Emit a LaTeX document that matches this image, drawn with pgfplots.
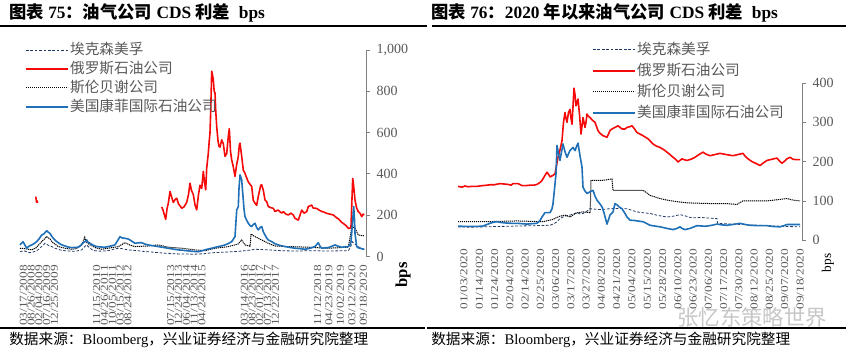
\documentclass[border=0pt]{standalone}
\usepackage{fontspec}
\setmainfont{Liberation Serif}
\newfontfamily\cjk{Noto Sans CJK SC}
\newfontfamily\tickfont{Liberation Serif}[FakeStretch=1.25]
\usepackage{pgfplots}
\pgfplotsset{compat=1.18}
\definecolor{cred}{RGB}{245,10,10}
\definecolor{cblue}{RGB}{31,112,183}
\definecolor{cnavy}{RGB}{31,56,100}
\definecolor{tgray}{RGB}{89,89,89}
\definecolor{agray}{RGB}{128,128,128}
\pgfplotsset{
  ccommon/.style={
    scale only axis, anchor=south west,
    axis y line*=right, axis x line*=bottom,
    x axis line style={draw=none},
    y axis line style={agray, line width=0.6pt},
    tick align=outside,
    ytick style={agray, line width=0.6pt},
    major tick length=3pt,
    minor tick length=3.75pt,
    xtick style={draw=none},
    minor x tick style={agray, line width=0.5pt},
    yticklabel style={font=\fontsize{10.5}{12}\selectfont, text=tgray, xshift=1.5pt},
    xticklabel style={rotate=90, anchor=east, font=\tickfont\fontsize{8}{9}\selectfont, text=tgray},
    /pgf/number format/assume math mode=true,
    /pgf/number format/1000 sep={,},
    legend cell align=left,
  },
  xom/.style={draw=cnavy, line width=0.6pt, dash pattern=on 2pt off 1.3pt},
  ros/.style={draw=cred, line width=1.2pt, line join=round},
  slb/.style={draw=black, line width=0.75pt, dash pattern=on 0.9pt off 0.6pt},
  cop/.style={draw=cblue, line width=1.2pt, line join=round},
}
\pgfplotsset{legend image code/.code={\draw[#1] (0pt,0pt) -- (31.5pt,0pt);}}
\begin{document}
\begin{tikzpicture}
\useasboundingbox (0,0) rectangle (640.5pt,-267pt);
\begin{scope}[x=0.75pt,y=-0.75pt]
\node[anchor=west,inner sep=0] at (9,13) {\fontsize{13}{15}\selectfont\bfseries{\cjk 图表} 75{\cjk ：油气公司} CDS {\cjk 利差}\ \ bps};
\node[anchor=west,inner sep=0] at (431,13) {\fontsize{13}{15}\selectfont\bfseries{\cjk 图表} 76{\cjk ：}2020 {\cjk 年以来油气公司} CDS {\cjk 利差}\ \ bps};
\draw[line width=1.1pt] (0,26) -- (427,26);
\draw[line width=1.1pt] (432,26) -- (846,26);
\draw[line width=0.8pt] (0,328) -- (425,328);
\draw[line width=0.8pt] (427,328) -- (846,328);
\node[anchor=west,inner sep=0] at (9,340) {\fontsize{11}{13}\selectfont{\cjk 数据来源：}Bloomberg{\cjk ，兴业证券经济与金融研究院整理}};
\node[anchor=west,inner sep=0] at (431,340) {\fontsize{11}{13}\selectfont{\cjk 数据来源：}Bloomberg{\cjk ，兴业证券经济与金融研究院整理}};
\node[rotate=90,inner sep=0] at (403,275) {\fontsize{12.5}{14}\selectfont\bfseries bps};
\node[rotate=90,inner sep=0] at (828,263) {\fontsize{10}{12}\selectfont bps};
\node[inner sep=0,text=black!22] at (752,317) {\cjk\fontsize{16}{18}\selectfont 张忆东策略世界};
\end{scope}

% ---------------- left panel ----------------
\begin{axis}[ccommon,
  at={(13.5pt,-192.375pt)},
  width=261pt, height=154.875pt,
  xmin=18, xmax=366, ymin=0, ymax=1000,
  ytick={0,200,...,1000},
  minor xtick={18,19,...,366},
  minor x tick style={agray, line width=0.8pt},
  xtick={23.3,31.1,38.9,46.7,54.5,96.7,104.5,112.3,120.1,127.9,170.7,178.5,186.3,194.1,201.9,244.3,252.1,259.9,267.7,275.5,317.7,329,340.5,352,363.3},
  xticklabels={03/17/2008,08/26/2008,02/04/2009,07/16/2009,12/25/2009,11/15/2010,04/26/2011,10/05/2011,03/15/2012,08/24/2012,07/15/2013,12/24/2013,06/04/2014,11/13/2014,04/24/2015,03/14/2016,08/23/2016,02/01/2017,07/13/2017,12/22/2017,11/12/2018,04/23/2019,10/02/2019,03/12/2020,09/18/2020},
  legend style={draw=none, fill=none, at={(0.02,1.04)}, anchor=north west,
    font=\cjk\fontsize{11}{13}\selectfont, text=tgray, row sep=1.6pt, inner sep=0pt,
    nodes={inner sep=1pt, text height=8.5pt, text depth=2pt}},
]
\addlegendimage{xom}\addlegendentry{埃克森美孚}
\addlegendimage{ros}\addlegendentry{俄罗斯石油公司}
\addlegendimage{slb}\addlegendentry{斯伦贝谢公司}
\addlegendimage{cop}\addlegendentry{美国康菲国际石油公司}
\addplot[xom, forget plot] coordinates {(20,23)(24,28)(28,20)(31.7,19)(35,25)(38,32)(42,50)(45,64)(48,55)(51.7,48)(55,40)(60,32)(65,28)(70,26)(75,25)(78,28)(81.7,32)(84,45)(86.7,56)(89,45)(92,33)(95,28)(100,26)(105,27)(110,30)(114,36)(118.3,40)(122,38)(125,35)(128.3,32)(133,30)(138,28)(143,25)(148.3,23)(155,20)(160,18)(165,16)(170,15)(175,13)(181.7,12)(188,12)(193,11)(198.3,12)(205,14)(210,17)(215,19)(220,20)(225,21)(231.7,23)(238,25)(245,28)(250,31)(255,35)(260,34)(268.3,32)(275,30)(281.7,28)(290,27)(301.7,27)(308,28)(315,28)(322,27)(328,27)(335,27)(342,28)(348.3,28)(350.5,45)(352.3,72)(355,60)(358.3,48)(361,40)(364.3,35)};
\addplot[ros, forget plot] coordinates {(35.8,290)(36.2,275)(36.6,262)(37,270)(37.6,260)};
\addplot[ros, forget plot] coordinates {(161.7,240)(163,225)(165.7,180)(167,230)(168.3,258)(170,315)(171.5,290)(173.3,262)(175,275)(176.7,282)(178.5,255)(181.7,234)(184,240)(186.7,262)(188.5,300)(190,355)(191.5,320)(193.3,300)(195,250)(196.7,226)(198.5,300)(200,345)(201.7,330)(203.3,412)(204.5,360)(205.7,323)(206.7,428)(208.3,500)(209.3,563)(210,598)(210.8,720)(211.7,897)(212.5,880)(213.3,856)(214.2,800)(215,792)(215.8,700)(216.7,630)(218,560)(219,533)(220,530)(221.7,565)(223.3,546)(225,485)(226.7,498)(228.3,582)(229.3,619)(230.5,510)(231.7,468)(233.3,434)(235,388)(236.5,440)(238.3,485)(239.3,538)(240,549)(241.7,485)(243.3,418)(245,403)(246.7,380)(248.3,361)(250,350)(251.7,339)(253.3,272)(255,258)(256.7,248)(258.3,291)(260.7,345)(261.7,347)(263.3,321)(265,274)(266.7,265)(268.3,242)(270,238)(273.3,233)(275,218)(278,225)(281.7,210)(283.3,217)(286,205)(288.3,201)(291,210)(293.3,201)(295,185)(298.3,176)(300,200)(301.7,225)(304,210)(306.7,217)(308.3,242)(311.7,249)(313,235)(316.7,233)(319,225)(321.7,218)(324,215)(326.7,209)(330,205)(333.3,201)(336,190)(339,180)(341.7,165)(343.3,160)(346,150)(348.3,137)(350,136)(351,145)(352.7,378)(353.5,350)(355,273)(356.7,234)(358.3,217)(360,210)(361.7,193)(363,205)(364.3,201)};
\addplot[slb, forget plot] coordinates {(20,40)(25,38)(31.7,32)(36,42)(41.7,72)(46.7,96)(50,85)(51.7,72)(55,60)(58.3,48)(65,40)(71.7,35)(76,38)(81.7,56)(84.7,93)(86,70)(90,56)(96,42)(101.7,35)(108,40)(118.3,48)(125,67)(130,55)(135,48)(148.3,51)(158.3,56)(168.3,45)(181.7,40)(195,32)(205,28)(215,40)(228.3,48)(238,60)(241.7,80)(245,56)(250,50)(250.5,75)(251,109)(255,96)(261.7,80)(268.3,64)(275,51)(288.3,48)(308.3,45)(328.3,40)(348.3,45)(352,145)(355,137)(358.3,104)(364.3,100)};
\addplot[cop, forget plot] coordinates {(20,56)(23,72)(26.7,40)(29,50)(31.7,56)(34,62)(36.7,72)(39,85)(41.7,104)(44,110)(46.7,125)(48,118)(50,112)(51.5,100)(53.3,88)(56,75)(58.3,67)(61,58)(65,51)(68,46)(71.7,43)(75,44)(78.3,45)(81,55)(83.3,67)(85,72)(86.7,80)(88,70)(90,64)(93,55)(96.7,48)(101,46)(105,45)(110,50)(115,56)(118,80)(120,96)(122,90)(125,88)(128,85)(130,80)(133,70)(135,64)(138,66)(141.7,67)(145,60)(148.3,56)(153,52)(158.3,48)(163,44)(168.3,40)(173,36)(178.3,32)(183,30)(188.3,27)(193,25)(198.3,23)(202,28)(205,32)(208,36)(211.7,40)(215,44)(218.3,48)(222,52)(225,56)(228,62)(231.7,72)(233.5,85)(235,96)(236.7,225)(238.3,242)(239,330)(240,395)(240.8,385)(241.7,371)(242.5,320)(243.3,274)(244,230)(245,193)(246.7,175)(248.3,161)(250,150)(251.7,145)(253.3,155)(255,161)(256.7,140)(258.3,129)(260,140)(261.7,145)(263.3,120)(265,104)(266.7,90)(268.3,80)(270,76)(271.7,72)(275,62)(278.3,56)(281.7,52)(285,48)(290,44)(295,40)(300,38)(305,35)(310,40)(315,48)(318.3,67)(320,50)(321.7,40)(325,42)(328.3,43)(332,50)(335,56)(338,50)(341.7,45)(345,47)(348.3,48)(350,55)(351,72)(352.7,177)(353.7,242)(354.5,180)(355,112)(356.7,48)(358.3,42)(360,40)(362,37)(364.3,35)};
\end{axis}

% ---------------- right panel ----------------
\begin{axis}[ccommon,
  at={(343.5pt,-180.15pt)},
  width=258pt, height=117.9pt,
  xmin=458, xmax=802, ymin=0, ymax=400,
  ytick={0,100,...,400},
  minor xtick={458,459.91,...,802},
  xtick={464,479.27,494.55,509.82,525.09,540.36,555.64,570.91,586.18,601.45,616.73,632,647.27,662.55,677.82,693.09,708.36,723.64,738.91,754.18,769.45,784.73,800},
  xticklabels={01/03/2020,01/14/2020,01/24/2020,02/04/2020,02/14/2020,02/25/2020,03/06/2020,03/17/2020,03/27/2020,04/08/2020,04/21/2020,05/04/2020,05/15/2020,05/28/2020,06/10/2020,06/23/2020,07/06/2020,07/17/2020,07/30/2020,08/12/2020,08/25/2020,09/07/2020,09/18/2020},
  legend style={draw=none, fill=none, at={(0.3895,1.27)}, anchor=north west,
    font=\cjk\fontsize{11}{13}\selectfont, text=tgray, row sep=2.3pt, inner sep=0pt,
    nodes={inner sep=1pt, text height=9pt, text depth=2.5pt}},
]
\addlegendimage{xom}\addlegendentry{埃克森美孚}
\addlegendimage{ros}\addlegendentry{俄罗斯石油公司}
\addlegendimage{slb}\addlegendentry{斯伦贝谢公司}
\addlegendimage{cop}\addlegendentry{美国康菲国际石油公司}
\addplot[xom, forget plot] coordinates {(458,34)(470,33)(483,34)(500,35)(517,36)(535,37)(550,38)(554,42)(557,47)(560,55)(563,59)(566,62)(570,64)(573,66)(577,70)(580,67)(583,68)(587,74)(590,80)(595,79)(600,78)(605,79)(610,80)(618,81)(627,80)(632,76)(637,72)(643,70)(650,68)(658,63)(667,59)(673,61)(680,65)(685,62)(690,58)(695,57)(700,58)(710,56)(717,55)(717.5,43)(725,42)(733,41)(750,39)(767,37)(785,35)(800,34)};
\addplot[ros, forget plot] coordinates {(458,137)(462,135)(465,138)(468,136)(472,137)(477,137)(483,139)(487,140)(490,141)(494,141)(500,144)(504,143)(508,142)(511,140)(513,144)(518,144)(522,139)(526,139)(530,140)(534,140)(537,142)(540,147)(542,152)(545,165)(547,173)(549,166)(550,161)(553,165)(555,169)(556.5,190)(558,211)(560,230)(562,253)(563.5,300)(565,325)(566,310)(567,300)(568.5,325)(570,333)(571,310)(572,295)(573,340)(574,387)(575,370)(576,342)(577,350)(578,359)(579.5,320)(581,270)(582,290)(583,312)(584,300)(585,287)(586,300)(587,321)(588.5,315)(590,312)(593,304)(595,300)(598,279)(600,272)(603,266)(605,264)(607,262)(608.5,270)(610,279)(612,283)(615,287)(618,291)(620,287)(622,283)(625,283)(627,287)(630,289)(632,291)(634,285)(637,274)(640,270)(643,266)(648,258)(653,245)(656,240)(660,236)(664,230)(667,224)(670,218)(673,211)(676,205)(678,199)(680,203)(682,207)(684,205)(687,203)(691,206)(695,211)(699,218)(703,224)(706,219)(710,215)(715,218)(720,221)(726,218)(733,215)(738,218)(743,221)(745,214)(748,207)(752,200)(757,194)(760,190)(763,196)(767,203)(772,206)(777,209)(780,200)(782,196)(785,202)(787,207)(790,211)(793,206)(796,205)(800,205)};
\addplot[slb, forget plot] coordinates {(458,47)(470,47)(483,47)(500,48)(517,49)(530,48)(543,47)(548,50)(553,53)(557,58)(560,61)(565,64)(570,59)(574,66)(577,70)(583,72)(590,70)(590.5,100)(591,152)(600,152)(605,153)(612,156)(612.5,140)(613,127)(620,127)(630,127)(643,127)(647,120)(650,114)(655,110)(660,106)(667,102)(677,98)(687,95)(700,94)(715,93)(727,93)(737,91)(740,96)(743,100)(755,100)(767,100)(777,103)(787,106)(793,102)(800,100)};
\addplot[cop, forget plot] coordinates {(458,36)(464,35)(470,35)(477,35)(483,36)(487,40)(490,43)(494,46)(497,47)(501,45)(505,44)(511,43)(517,43)(522,42)(527,41)(532,42)(537,43)(540,50)(542,59)(545,70)(548,70)(550,70)(552,80)(553,93)(554.5,130)(556,169)(557,241)(558.5,220)(560,203)(561.5,225)(563,245)(565,225)(567,211)(568.5,220)(570,228)(571.5,232)(573,236)(575,228)(576.5,238)(578,247)(580,215)(582,186)(583,135)(585,125)(587,119)(588.5,121)(590,123)(591.5,125)(593,127)(595,112)(597,102)(600,92)(602,85)(604,70)(605,60)(607,41)(608.5,52)(610,64)(613,72)(615,93)(617,90)(619,85)(622,80)(625,68)(627,59)(630,51)(635,50)(640,48)(643,47)(647,42)(650,38)(655,36)(660,34)(667,30)(673,27)(677,30)(680,34)(682,30)(685,27)(690,30)(697,37)(702,36)(707,36)(712,38)(717,41)(722,39)(727,38)(733,40)(740,43)(745,40)(750,38)(758,37)(767,37)(773,35)(780,34)(784,37)(787,40)(793,40)(800,40)};
\end{axis}
\end{tikzpicture}
\end{document}
